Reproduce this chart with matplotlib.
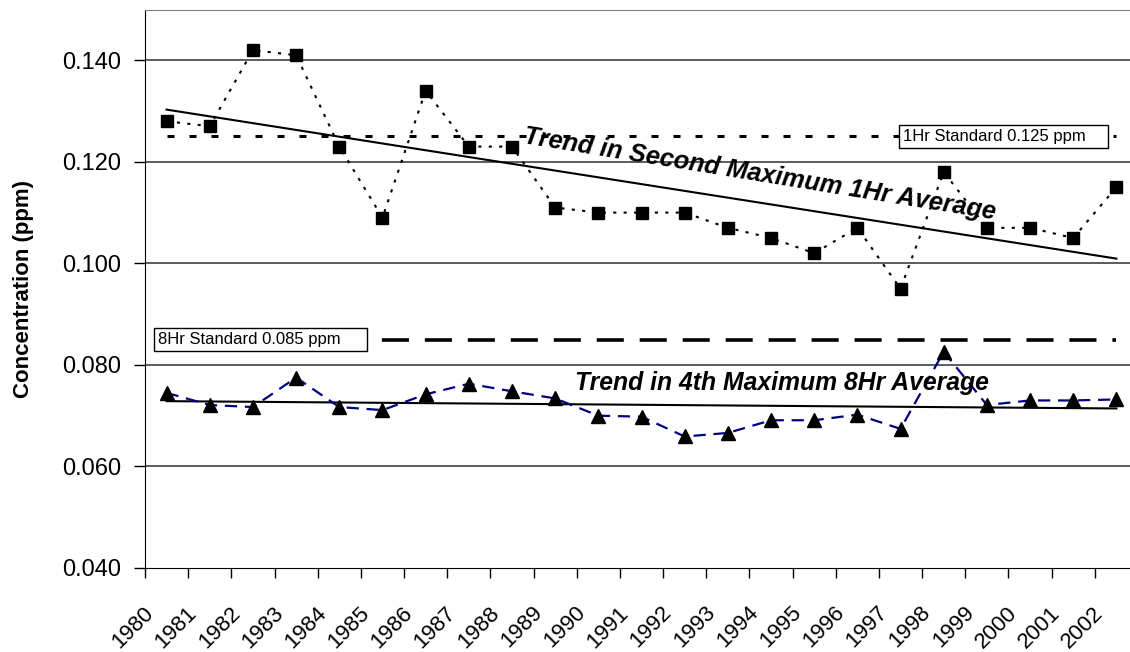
# Ozone trends: second max 1-hr and 4th max 8-hr averages, 1980-2002
import numpy as np
import matplotlib
matplotlib.use('Agg')
import matplotlib.pyplot as plt
from matplotlib.transforms import ScaledTranslation

# Data
years = [str(y) for y in range(1980, 2003)]
max_1hr = [0.128, 0.127, 0.142, 0.141, 0.123, 0.109, 0.134, 0.123, 0.123, 0.111,
           0.110, 0.110, 0.110, 0.107, 0.105, 0.102, 0.107, 0.095, 0.118, 0.107,
           0.107, 0.105, 0.115]
max_8hr = [0.0745, 0.0721, 0.0717, 0.0775, 0.0717, 0.0711, 0.0742, 0.0763, 0.0748, 0.0734,
           0.0700, 0.0698, 0.0659, 0.0666, 0.0691, 0.0691, 0.0702, 0.0674, 0.0826, 0.0721,
           0.0730, 0.0730, 0.0732]
std_1hr = 0.125
std_8hr = 0.085
yticks = [0.040, 0.060, 0.080, 0.100, 0.120, 0.140]

x = np.arange(len(years))

# Linear trend lines
fit_1hr = np.polyval(np.polyfit(x, max_1hr, 1), x)
fit_8hr = np.polyval(np.polyfit(x, max_8hr, 1), x)

fig = plt.figure(figsize=(11.3, 6.52), dpi=100)
ax = fig.add_axes([145 / 1130, 1 - 568 / 652, 993 / 1130, 558.5 / 652])

# gridlines
for v in yticks[1:]:
    ax.axhline(v, color='#303030', lw=1.1, zorder=1)

# standards
ax.plot(x, [std_1hr] * len(x), color='black', lw=2.2, linestyle=(0, (2.3, 4.9)), zorder=2)
ax.plot(x, [std_8hr] * len(x), color='black', lw=2.6, linestyle=(0, (7.5, 4.4)), zorder=2)

# trends
ax.plot(x, fit_1hr, color='black', lw=1.5, zorder=3)
ax.plot(x, fit_8hr, color='black', lw=1.5, zorder=3)

# data series
ax.plot(x, max_1hr, color='black', lw=1.5, linestyle=(0, (1.5, 3.5)),
        marker='s', ms=8.5, mfc='black', mec='black', zorder=4)
ax.plot(x, max_8hr, color='#000080', lw=1.6, linestyle=(0, (5.5, 3.5)),
        marker='^', ms=10, mfc='black', mec='black', zorder=4)

# standard labels in boxes
box = dict(boxstyle='square,pad=0.22', fc='white', ec='black', lw=1)
ax.text(17.05, std_1hr, '1Hr Standard 0.125 ppm    ', fontsize=12, family='Liberation Sans',
        ha='left', va='center', bbox=box, zorder=5)
ax.text(-0.2, std_8hr, '8Hr Standard 0.085 ppm     ', fontsize=12, family='Liberation Sans',
        ha='left', va='center', bbox=box, zorder=5)

# trend annotations
trend_font = dict(family=['DejaVu Sans Condensed', 'Liberation Sans Narrow', 'Liberation Sans'],
                  weight='bold', style='italic', fontstretch='condensed')
ax.text(13.72, 0.1161, 'Trend in Second Maximum 1Hr Average', fontsize=18.3,
        rotation=-9.2, ha='center', va='baseline', rotation_mode='anchor',
        zorder=6, **trend_font)
ax.text(14.25, 0.0751, 'Trend in 4th Maximum 8Hr Average', fontsize=17.8,
        ha='center', va='baseline', zorder=6, **trend_font)

# axes
ax.set_xlim(-0.5, len(x) - 0.5)
ax.set_ylim(0.040, 0.150)
ax.set_yticks(yticks)
ax.set_yticklabels(['%.3f' % v for v in yticks], fontsize=17, family='Liberation Sans')
ax.tick_params(axis='y', length=8, width=1, direction='out', pad=9)

ax.set_xticks(x)
ax.set_xticklabels(years, fontsize=16, family='Liberation Sans', rotation=45,
                   ha='right', va='center', rotation_mode='anchor')
ax.set_xticks(np.arange(-0.5, len(x) + 0.5, 1), minor=True)
ax.tick_params(axis='x', which='major', length=0, pad=30)
ax.tick_params(axis='x', which='minor', length=7, width=1, direction='out')
for lab in ax.get_xticklabels():
    lab.set_transform(lab.get_transform() + ScaledTranslation(-16 / 100, 0, fig.dpi_scale_trans))

ax.set_ylabel('Concentration (ppm)', fontsize=16, fontweight='bold', family='Liberation Sans',
              labelpad=20)

ax.spines['top'].set_color('#808080')
ax.spines['left'].set_color('black')
ax.spines['bottom'].set_color('black')
ax.spines['right'].set_visible(False)

plt.savefig('out.png', dpi=100)
plt.close()
